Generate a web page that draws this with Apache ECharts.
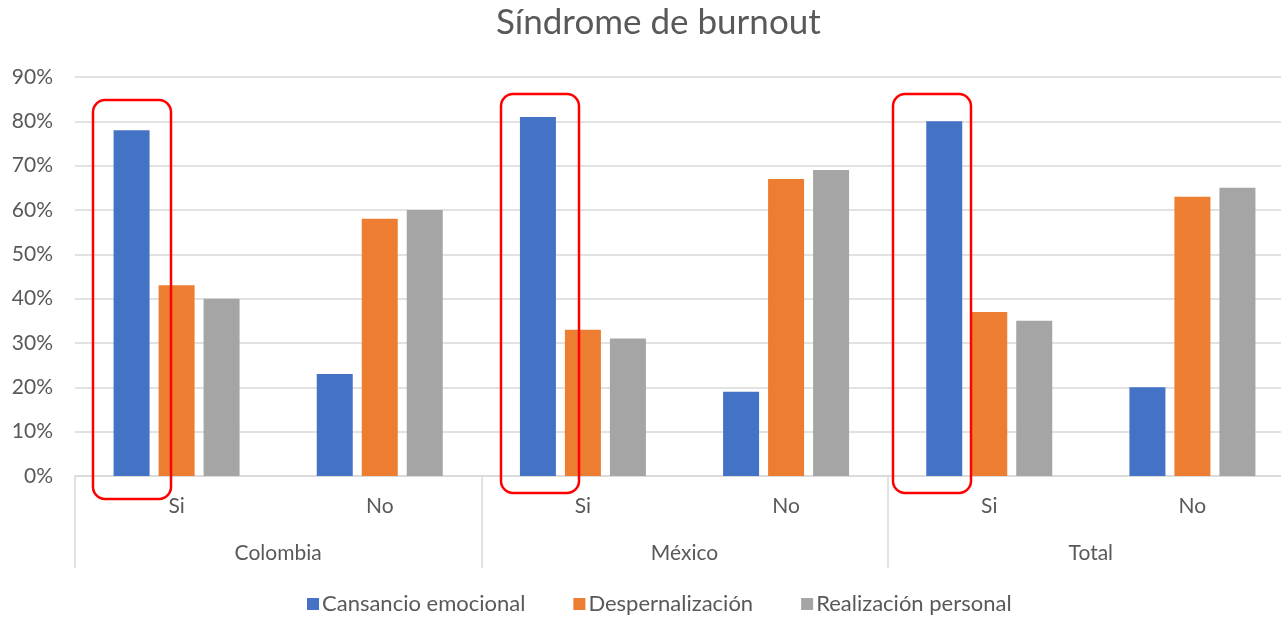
<!DOCTYPE html>
<html>
<head>
<meta charset="utf-8">
<script src="https://cdn.jsdelivr.net/npm/echarts@6/dist/echarts.min.js"></script>
<style>
  html, body { margin: 0; padding: 0; background: #fff; }
  #main { width: 1281px; height: 619px; }
</style>
</head>
<body>
<div id="main"></div>
<script>
var categories = ['Si', 'No', 'Si', 'No', 'Si', 'No'];
var groups = ['Colombia', 'México', 'Total'];
var cansancio = [78, 23, 81, 19, 80, 20];
var despersonal = [43, 58, 33, 67, 37, 63];
var realizacion = [40, 60, 31, 69, 35, 65];

var font = 'Lato';
var textColor = '#595959';

var chart = echarts.init(document.getElementById('main'));

function bar(name, data, color) {
  return {
    name: name,
    type: 'bar',
    data: data,
    barWidth: 36,
    barGap: '25%',
    itemStyle: { color: color }
  };
}

// red highlight boxes drawn over the "Si" bars
function box(x, y, w, h) {
  return {
    type: 'rect',
    shape: { x: x, y: y, width: w, height: h, r: 12 },
    style: { fill: 'none', stroke: '#ff0000', lineWidth: 2.5 },
    z: 100
  };
}

chart.setOption({
  animation: false,
  textStyle: { fontFamily: font },
  title: {
    text: 'Síndrome de burnout',
    left: 491,
    top: 0,
    textStyle: { fontFamily: font, fontSize: 35, fontWeight: 'normal', color: textColor }
  },
  legend: {
    bottom: -1,
    left: 302,
    itemWidth: 12,
    itemHeight: 12,
    itemGap: 48,
    icon: 'rect',
    textStyle: { fontFamily: font, fontSize: 22, color: textColor, padding: [0, 0, 0, -2] },
    data: ['Cansancio emocional', 'Despernalización', 'Realización personal']
  },
  grid: { left: 75, top: 77, width: 1219, bottom: 143, outerBoundsMode: 'none' },
  xAxis: [{
    type: 'category',
    data: categories,
    axisLine: { lineStyle: { color: '#d9d9d9', width: 1.5 } },
    axisTick: { show: false },
    axisLabel: { fontSize: 21, color: textColor, margin: 20 }
  }, {
    type: 'category',
    data: groups,
    position: 'bottom',
    axisLine: { show: false },
    axisTick: { show: true, length: 92, lineStyle: { color: '#d9d9d9', width: 1.5 } },
    axisLabel: { fontSize: 21, color: textColor, margin: 67 }
  }],
  yAxis: {
    type: 'value',
    min: 0,
    max: 90,
    interval: 10,
    axisLine: { show: false },
    axisTick: { show: false },
    splitLine: { lineStyle: { color: '#d9d9d9', width: 1.5 } },
    axisLabel: { fontSize: 21, color: textColor, margin: 22, formatter: '{value}%' }
  },
  series: [
    bar('Cansancio emocional', cansancio, '#4472C4'),
    bar('Despernalización', despersonal, '#ED7D31'),
    bar('Realización personal', realizacion, '#A5A5A5')
  ],
  graphic: [
    box(93, 100, 78, 399),
    box(501, 94, 78, 399),
    box(893, 94, 78, 399)
  ]
});
</script>
</body>
</html>
